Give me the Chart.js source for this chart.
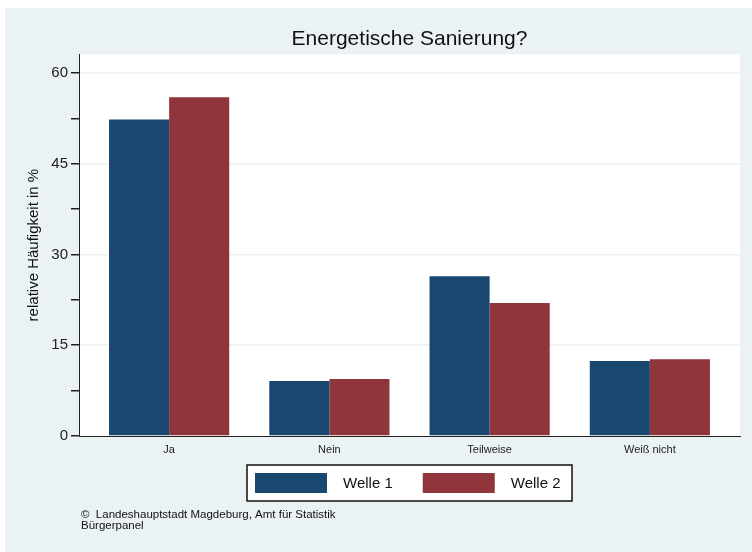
<!DOCTYPE html>
<html>
<head>
<meta charset="utf-8">
<script src="https://cdn.jsdelivr.net/npm/chart.js@4"></script>
<style>
  body { margin: 0; background: #fff; }
</style>
</head>
<body>
<canvas id="chart" width="752" height="552"></canvas>
<script>
const categories = ['Ja', 'Nein', 'Teilweise', 'Weiß nicht'];
const welle1 = [52.3, 9.1, 26.4, 12.4];
const welle2 = [56.0, 9.4, 22.0, 12.7];
const seriesNames = ['Welle 1', 'Welle 2'];
const yTickValues = [0, 7.5, 15, 22.5, 30, 37.5, 45, 52.5, 60];
const yTickLabels = [0, 15, 30, 45, 60];
const footerLines = ['\u00A9  Landeshauptstadt Magdeburg, Amt f\u00FCr Statistik', 'B\u00FCrgerpanel'];

const FONT = '"Liberation Sans", Arial, sans-serif';
const navy = '#1a476f';
const maroon = '#90353b';
const regionBg = '#eaf2f3';

// background: light graph region, white plot region
const backgroundPlugin = {
    id: 'bg',
    beforeDraw(chart) {
        const ctx = chart.ctx;
        const a = chart.chartArea;
        ctx.save();
        ctx.fillStyle = '#ffffff';
        ctx.fillRect(0, 0, chart.width, chart.height);
        ctx.fillStyle = regionBg;
        ctx.fillRect(5, 8, chart.width - 5, chart.height - 8);
        ctx.fillStyle = '#ffffff';
        ctx.fillRect(a.left, a.top, a.right - a.left, a.bottom - a.top);
        ctx.restore();
    }
};

// framed legend under the plot and source note
const legendPlugin = {
    id: 'framedLegend',
    afterDraw(chart) {
        const ctx = chart.ctx;
        const a = chart.chartArea;
        const cx = (a.left + a.right) / 2;
        const w = 325, h = 36;
        const left = cx - w / 2, top = a.bottom + 29;
        ctx.save();
        ctx.fillStyle = '#ffffff';
        ctx.fillRect(left, top, w, h);
        ctx.strokeStyle = '#111';
        ctx.lineWidth = 1.5;
        ctx.strokeRect(left, top, w, h);
        ctx.font = '15px ' + FONT;
        ctx.textBaseline = 'middle';
        ctx.textAlign = 'left';
        let x = left + 8;
        chart.data.datasets.forEach(ds => {
            ctx.fillStyle = ds.backgroundColor;
            ctx.fillRect(x, top + 8, 72, 20);
            x += 72 + 16;
            ctx.fillStyle = '#111';
            ctx.fillText(ds.label, x, top + h / 2 + 1);
            x += ctx.measureText(ds.label).width + 30;
        });

        ctx.font = '11.5px ' + FONT;
        ctx.fillStyle = '#111';
        footerLines.forEach((line, i) => {
            ctx.fillText(line, 81, 515 + i * 11);
        });
        ctx.restore();
    }
};

const ctx = document.getElementById('chart').getContext('2d');
new Chart(ctx, {
    type: 'bar',
    data: {
        datasets: [{
            label: seriesNames[0],
            data: categories.map((c, i) => ({ x: i, y: welle1[i] })),
            backgroundColor: navy,
            borderWidth: 0
        }, {
            label: seriesNames[1],
            data: categories.map((c, i) => ({ x: i, y: welle2[i] })),
            backgroundColor: maroon,
            borderWidth: 0
        }]
    },
    options: {
        responsive: false,
        animation: false,
        devicePixelRatio: 1,
        categoryPercentage: 0.75,
        barPercentage: 1,
        layout: { padding: { top: 8, left: 5, right: 12, bottom: 86 } },
        plugins: {
            legend: { display: false },
            tooltip: { enabled: false },
            title: {
                display: true,
                text: 'Energetische Sanierung?',
                fullSize: false,
                color: '#111',
                font: { family: FONT, size: 21, weight: 'normal' },
                padding: { top: 19, bottom: 2 }
            }
        },
        scales: {
            x: {
                type: 'linear',
                min: -0.5625,
                max: 3.5625,
                offset: false,
                grid: { display: false, drawTicks: false, offset: false },
                border: { display: true, color: '#222', width: 1 },
                afterBuildTicks(scale) {
                    scale.ticks = categories.map((c, i) => ({ value: i }));
                },
                afterFit(scale) { scale.height = 30; },
                ticks: {
                    autoSkip: false,
                    maxRotation: 0,
                    padding: 7,
                    color: '#222',
                    font: { family: FONT, size: 11 },
                    callback: value => categories[value]
                }
            },
            y: {
                min: 0,
                max: 63.1,
                afterBuildTicks(scale) {
                    scale.ticks = yTickValues.map(v => ({ value: v }));
                },
                afterFit(scale) { scale.width = 74; },
                grid: {
                    drawTicks: true,
                    tickLength: 8,
                    tickColor: '#222',
                    lineWidth: 1.5,
                    color: c => (c.tick && c.tick.value > 0 && yTickLabels.includes(c.tick.value)) ? regionBg : 'rgba(0,0,0,0)'
                },
                border: { display: true, color: '#222', width: 1 },
                ticks: {
                    autoSkip: false,
                    padding: 3,
                    color: '#222',
                    font: { family: FONT, size: 15 },
                    callback: value => yTickLabels.includes(value) ? String(value) : ''
                },
                title: {
                    display: true,
                    text: 'relative Häufigkeit in %',
                    color: '#111',
                    font: { family: FONT, size: 15 },
                    padding: { top: 20, bottom: 0 }
                }
            }
        }
    },
    plugins: [backgroundPlugin, legendPlugin]
});
</script>
</body>
</html>
